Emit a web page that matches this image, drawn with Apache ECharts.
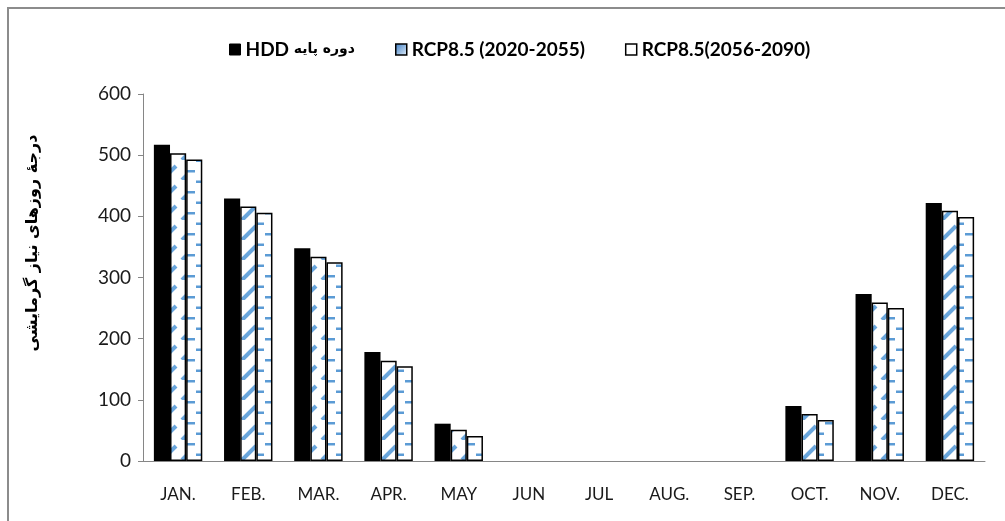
<!DOCTYPE html>
<html>
<head>
<meta charset="utf-8">
<script src="https://cdn.jsdelivr.net/npm/echarts@6/dist/echarts.min.js"></script>
<style>
  html, body { margin: 0; padding: 0; background: #fff; }
  #main { width: 1005px; height: 521px; }
</style>
</head>
<body>
<div id="main"></div>
<script>
const months = ["JAN.", "FEB.", "MAR.", "APR.", "MAY", "JUN", "JUL", "AUG.", "SEP.", "OCT.", "NOV.", "DEC."];
const seriesNames = ["HDD دوره پایه", "RCP8.5 (2020-2055)", "RCP8.5(2056-2090)"];
const baseHdd = [517, 429, 348, 178, 61, 0, 0, 0, 0, 90, 273, 422];
const rcpNear = [503, 416, 334, 164, 51, 0, 0, 0, 0, 77, 259, 409];
const rcpFar = [493, 406, 325, 155, 41, 0, 0, 0, 0, 67, 250, 399];
const yTitle = "درجهٔ روزهای نیاز گرمایشی";

const blue = "#5b9bd5";
const font = "Lato, 'DejaVu Sans', sans-serif";
const faFont = "'DejaVu Sans', sans-serif";

// dashed upward diagonal fill
function diagPattern() {
  const c = document.createElement("canvas");
  c.width = 20; c.height = 20;
  const ctx = c.getContext("2d");
  ctx.fillStyle = "#fff";
  ctx.fillRect(0, 0, 20, 20);
  ctx.strokeStyle = "#6aa6dc";
  ctx.lineWidth = 4;
  ctx.lineCap = "butt";
  ctx.beginPath();
  ctx.moveTo(2, 20);
  ctx.lineTo(16, 6);
  ctx.stroke();
  return c;
}

// dashed horizontal fill
function dashPattern() {
  const c = document.createElement("canvas");
  c.width = 20; c.height = 21;
  const ctx = c.getContext("2d");
  ctx.fillStyle = "#fff";
  ctx.fillRect(0, 0, 20, 21);
  ctx.fillStyle = blue;
  ctx.fillRect(5, 2, 10, 2.5);
  ctx.fillRect(16, 12.5, 4, 2.5);
  ctx.fillRect(0, 12.5, 4, 2.5);
  return c;
}

// no outline on empty months
function toItems(values) {
  return values.map(v => v === 0 ? { value: v, itemStyle: { borderWidth: 0 } } : v);
}

const chart = echarts.init(document.getElementById("main"), null, { renderer: "canvas" });

function barSeries(name, data, fill, border) {
  return {
    name: name,
    type: "bar",
    data: toItems(data),
    barGap: "0%",
    barCategoryGap: "31%",
    itemStyle: {
      color: fill,
      borderColor: border,
      borderWidth: border ? 1.5 : 0
    }
  };
}

const option = {
  backgroundColor: "#fff",
  animation: false,
  graphic: [
    {
      type: "rect",
      shape: { x: 8, y: 8, width: 1010, height: 530 },
      style: { fill: "none", stroke: "#8c8c8c", lineWidth: 2 }
    },
    {
      type: "text",
      x: 33,
      y: 243,
      rotation: Math.PI / 2,
      style: {
        text: yTitle,
        font: "bold 16px " + faFont,
        fill: "#000",
        align: "center",
        verticalAlign: "middle"
      }
    }
  ],
  legend: {
    top: 35,
    left: 224,
    itemGap: 40,
    itemWidth: 11,
    itemHeight: 11,
    icon: "rect",
    formatter: function (name) {
      if (name === seriesNames[0]) {
        return "{en|HDD} {fa|" + name.replace("HDD ", "") + "}";
      }
      return name;
    },
    textStyle: {
      fontFamily: font, fontWeight: "bold", fontSize: 19, color: "#000",
      rich: {
        en: { fontFamily: font, fontWeight: "bold", fontSize: 19, color: "#000" },
        fa: { fontFamily: faFont, fontWeight: "bold", fontSize: 14, color: "#000" }
      }
    },
    data: [
      { name: seriesNames[0], itemStyle: { color: "#000", borderColor: "#000", borderWidth: 1 } },
      {
        name: seriesNames[1],
        itemStyle: {
          color: new echarts.graphic.LinearGradient(0, 0, 1, 1, [
            { offset: 0, color: "#3a7cc4" },
            { offset: 1, color: "#e6f0fa" }
          ]),
          borderColor: "#000",
          borderWidth: 1.5
        }
      },
      { name: seriesNames[2], itemStyle: { color: "#fff", borderColor: "#000", borderWidth: 1.5 } }
    ]
  },
  grid: { left: 143, right: 20, top: 94, bottom: 60 },
  xAxis: {
    type: "category",
    data: months,
    axisLine: { lineStyle: { color: "#868686", width: 1 } },
    axisTick: { length: 5, lineStyle: { color: "#868686" } },
    axisLabel: { fontFamily: font, fontSize: 17, color: "#1a1a1a", margin: 25 }
  },
  yAxis: {
    type: "value",
    min: 0,
    max: 600,
    interval: 100,
    splitLine: { show: false },
    axisLine: { show: true, lineStyle: { color: "#868686", width: 1 } },
    axisTick: { show: true, length: 5, lineStyle: { color: "#868686" } },
    axisLabel: { fontFamily: font, fontSize: 19, color: "#1a1a1a", margin: 12 }
  },
  series: [
    barSeries(seriesNames[0], baseHdd, "#000", null),
    barSeries(seriesNames[1], rcpNear, { image: diagPattern(), repeat: "repeat" }, "#000"),
    barSeries(seriesNames[2], rcpFar, { image: dashPattern(), repeat: "repeat" }, "#000")
  ]
};

chart.setOption(option);
</script>
</body>
</html>
